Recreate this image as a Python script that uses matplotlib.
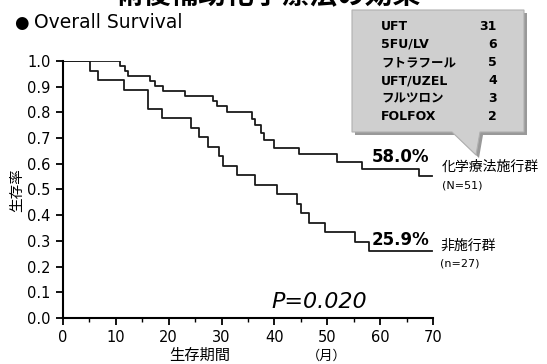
import matplotlib.pyplot as plt
from matplotlib.patches import Polygon
from matplotlib.ticker import MultipleLocator

plt.rcParams['font.family'] = ['DejaVu Sans', 'Noto Sans CJK JP']

# Kaplan-Meier steps (months, survival)
chemo_months = [0, 10.8, 11.7, 12.3, 16.4, 17.4, 18.9, 23.0, 28.3, 29.1, 31.1,
                35.7, 36.4, 37.5, 38.1, 40.0, 44.7, 51.9, 56.6, 67.4]
chemo_surv = [1.0, 0.980, 0.961, 0.941, 0.922, 0.902, 0.882, 0.862, 0.843, 0.823, 0.800,
              0.775, 0.751, 0.720, 0.693, 0.660, 0.638, 0.606, 0.580, 0.554]
none_months = [0, 5.1, 6.6, 11.5, 16.0, 18.7, 24.3, 25.7, 27.4, 29.6, 30.2,
               33.0, 36.4, 40.4, 44.2, 45.1, 46.6, 49.6, 55.3, 57.9]
none_surv = [1.0, 0.963, 0.926, 0.889, 0.815, 0.778, 0.741, 0.704, 0.667, 0.630, 0.593,
             0.556, 0.519, 0.481, 0.444, 0.407, 0.370, 0.333, 0.296, 0.259]
follow_up_end = 69.8

regimens = ['UFT', '5FU/LV', 'フトラフール', 'UFT/UZEL', 'フルツロン', 'FOLFOX']
regimen_n = [31, 6, 5, 4, 3, 2]

W, H = 547, 364
fig = plt.figure(figsize=(W / 100, H / 100), dpi=100)
ax = fig.add_axes([63 / W, 1 - 318 / H, 370 / W, 257 / H])


def px(x, y):
    return x / W, 1 - y / H


for months, surv in [(chemo_months, chemo_surv), (none_months, none_surv)]:
    ax.plot(months + [follow_up_end], surv + [surv[-1]], drawstyle='steps-post',
            color='#1a1a1a', lw=1.3)

ax.set_xlim(0, 70)
ax.set_ylim(0, 1.0)
ax.xaxis.set_major_locator(MultipleLocator(10))
ax.xaxis.set_minor_locator(MultipleLocator(5))
ax.yaxis.set_major_locator(MultipleLocator(0.1))
ax.yaxis.set_major_formatter(plt.FormatStrFormatter('%.1f'))
for s in ['top', 'right']:
    ax.spines[s].set_visible(False)
for s in ['left', 'bottom']:
    ax.spines[s].set_linewidth(1.5)
ax.tick_params(which='major', direction='out', length=5, width=1.3, labelsize=10.5, pad=4)
ax.tick_params(which='minor', direction='out', length=3, width=1)

fig.text(*px(17, 190), '生存率', rotation=90, ha='center', va='center', fontsize=10.5)
fig.text(*px(200, 355), '生存期間', ha='center', va='center', fontsize=11)
fig.text(*px(327, 356), '（月）', ha='center', va='center', fontsize=9.5)

# clipped heading at the very top
fig.text(*px(268, 3), '術後補助化学療法の効果', ha='center', va='baseline',
         fontsize=20, fontweight='bold')
fig.text(*px(21, 23), '●', ha='center', va='center', fontsize=12)
fig.text(*px(34, 23), 'Overall Survival', ha='left', va='center', fontsize=13.5)

# callout box
shape = [(352, 10), (524, 10), (524, 132), (480, 132), (476, 155), (452, 132), (352, 132)]
shadow = Polygon([px(x + 3, y + 3) for x, y in shape], closed=True,
                 transform=fig.transFigure, facecolor='#999999', edgecolor='none')
box = Polygon([px(x, y) for x, y in shape], closed=True, transform=fig.transFigure,
              facecolor='#cfcfcf', edgecolor='#b0b0b0', lw=0.8)
fig.patches.extend([shadow, box])
for i, (name, n) in enumerate(zip(regimens, regimen_n)):
    y = 26 + i * 18.2
    fig.text(*px(381, y), name, ha='left', va='center', fontsize=9, fontweight='bold')
    fig.text(*px(497, y), str(n), ha='right', va='center', fontsize=9, fontweight='bold')

fig.text(*px(372, 157), '58.0%', ha='left', va='center', fontsize=12, fontweight='bold')
fig.text(*px(372, 240), '25.9%', ha='left', va='center', fontsize=12, fontweight='bold')
fig.text(*px(442, 167), '化学療法施行群', ha='left', va='center', fontsize=10)
fig.text(*px(442, 186), '(N=51)', ha='left', va='center', fontsize=8)
fig.text(*px(440, 246), '非施行群', ha='left', va='center', fontsize=10)
fig.text(*px(440, 264), '(n=27)', ha='left', va='center', fontsize=8)
fig.text(*px(271, 302), 'P=0.020', ha='left', va='center', fontsize=16, style='italic')

fig.savefig('out.png', dpi=100)
